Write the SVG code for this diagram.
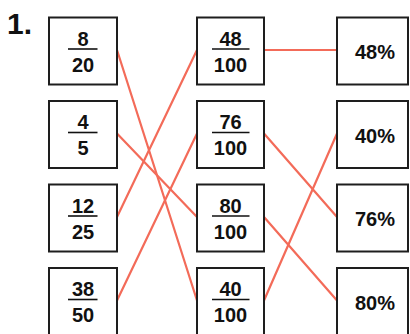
<svg xmlns="http://www.w3.org/2000/svg" width="410" height="334" viewBox="0 0 410 334">
<style>
.box{fill:#fff;stroke:#1e1e1e;stroke-width:2}
.t{font-family:"Liberation Sans",Arial,sans-serif;font-weight:700;font-size:20px;fill:#111;text-anchor:middle}
.bar{stroke:#111;stroke-width:1.6}
.c line{stroke:#f36b59;stroke-width:2.2;stroke-linecap:round}
</style>
<rect width="410" height="334" fill="#fff"/>
<text x="7" y="34" style="font-family:'Liberation Sans',Arial,sans-serif;font-weight:700;font-size:30px;fill:#111">1.</text>
<g class="c" id="connectors">
<line x1="117" y1="50" x2="197" y2="300.5"/>
<line x1="264" y1="50" x2="337" y2="50"/>
<line x1="117" y1="133.5" x2="197" y2="217"/>
<line x1="117" y1="217" x2="197" y2="50"/>
<line x1="117" y1="300.5" x2="197" y2="133.5"/>
<line x1="264" y1="133.5" x2="337" y2="217"/>
<line x1="264" y1="217" x2="337" y2="300.5"/>
<line x1="264" y1="300.5" x2="337" y2="133.5"/>
</g>
<g id="f8_20"><rect class="box" x="49" y="17.5" width="68" height="67"/><text class="t" x="83" y="45.5">8</text><line class="bar" x1="68" y1="49" x2="97.5" y2="49"/><text class="t" x="83" y="71.5">20</text></g>
<g id="f4_5"><rect class="box" x="49" y="101" width="68" height="67"/><text class="t" x="83" y="129">4</text><line class="bar" x1="68" y1="132.5" x2="97.5" y2="132.5"/><text class="t" x="83" y="155">5</text></g>
<g id="f12_25"><rect class="box" x="49" y="184.5" width="68" height="67"/><text class="t" x="83" y="212.5">12</text><line class="bar" x1="68" y1="216" x2="97.5" y2="216"/><text class="t" x="83" y="238.5">25</text></g>
<g id="f38_50"><rect class="box" x="49" y="268" width="68" height="67"/><text class="t" x="83" y="296">38</text><line class="bar" x1="68" y1="299.5" x2="97.5" y2="299.5"/><text class="t" x="83" y="322">50</text></g>
<g id="f48_100"><rect class="box" x="197" y="17.5" width="67" height="67"/><text class="t" x="230.5" y="45.5">48</text><line class="bar" x1="212" y1="49" x2="249.5" y2="49"/><text class="t" x="230.5" y="71.5">100</text></g>
<g id="f76_100"><rect class="box" x="197" y="101" width="67" height="67"/><text class="t" x="230.5" y="129">76</text><line class="bar" x1="212" y1="132.5" x2="249.5" y2="132.5"/><text class="t" x="230.5" y="155">100</text></g>
<g id="f80_100"><rect class="box" x="197" y="184.5" width="67" height="67"/><text class="t" x="230.5" y="212.5">80</text><line class="bar" x1="212" y1="216" x2="249.5" y2="216"/><text class="t" x="230.5" y="238.5">100</text></g>
<g id="f40_100"><rect class="box" x="197" y="268" width="67" height="67"/><text class="t" x="230.5" y="296">40</text><line class="bar" x1="212" y1="299.5" x2="249.5" y2="299.5"/><text class="t" x="230.5" y="322">100</text></g>
<g id="p48"><rect class="box" x="337" y="17.5" width="71" height="67"/><text class="t" x="375" y="59">48%</text></g>
<g id="p40"><rect class="box" x="337" y="101" width="71" height="67"/><text class="t" x="375" y="142.5">40%</text></g>
<g id="p76"><rect class="box" x="337" y="184.5" width="71" height="67"/><text class="t" x="375" y="226">76%</text></g>
<g id="p80"><rect class="box" x="337" y="268" width="71" height="67"/><text class="t" x="375" y="309.5">80%</text></g>
</svg>
